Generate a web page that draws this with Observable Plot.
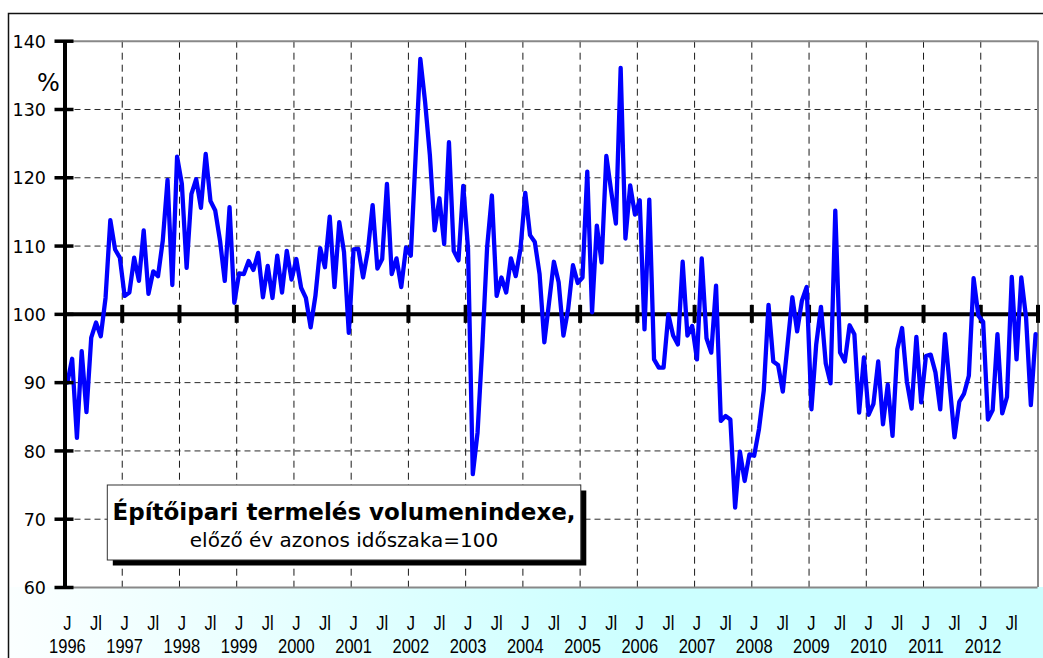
<!DOCTYPE html>
<html>
<head>
<meta charset="utf-8">
<script src="https://cdn.jsdelivr.net/npm/d3@7"></script>
<script src="https://cdn.jsdelivr.net/npm/@observablehq/plot@0.6"></script>
<style>
  html, body { margin: 0; padding: 0; background: #ffffff; }
  #chart { width: 1043px; height: 658px; overflow: hidden; }
</style>
</head>
<body>
<div id="chart"></div>
<script>
// ---- data ----
const years = [1996,1997,1998,1999,2000,2001,2002,2003,2004,2005,2006,2007,2008,2009,2010,2011,2012];
const monthLabels = ["J", "Jl"];
const yTicks = [60, 70, 80, 90, 100, 110, 120, 130, 140];
const yGrid = [70, 80, 90, 110, 120, 130];
const titleBold = "Építőipari termelés volumenindexe,";
const titleSub = "előző év azonos időszaka=100";
const unitLabel = "%";
// monthly volume index, Jan 1996 – Dec 2012 (one row per year)
const volumeIndex = [
  90.0, 93.5, 81.9, 94.6, 85.7, 96.6, 98.8, 96.8, 102.4, 113.8, 109.5, 108.3,
  102.7, 103.2, 108.3, 104.9, 112.3, 103.0, 106.3, 105.6, 110.8, 119.7, 104.3, 123.1,
  119.1, 106.8, 117.6, 119.8, 115.6, 123.5, 116.6, 115.2, 110.8, 104.9, 115.7, 101.7,
  106.0, 105.9, 107.8, 106.5, 109.0, 102.5, 107.1, 102.4, 108.6, 103.2, 109.3, 105.1,
  108.1, 103.9, 102.4, 98.1, 102.7, 109.7, 106.9, 114.3, 104.0, 113.5, 109.1, 97.3,
  109.5, 109.6, 105.4, 109.3, 116.0, 106.7, 108.1, 119.1, 105.9, 108.2, 104.0, 109.8,
  108.6, 123.0, 137.4, 131.1, 123.3, 112.3, 117.0, 110.3, 125.2, 109.3, 107.9, 118.8,
  109.6, 76.6, 82.7, 95.4, 109.8, 117.4, 102.7, 105.4, 103.2, 108.2, 105.6, 109.6,
  117.8, 111.6, 110.6, 105.9, 95.9, 101.8, 107.7, 104.7, 96.9, 100.8, 107.2, 104.6,
  105.4, 120.9, 100.3, 113.0, 107.6, 123.2, 118.1, 113.3, 136.1, 111.1, 118.9, 114.6,
  116.7, 97.8, 116.8, 93.4, 92.2, 92.2, 100.0, 96.9, 95.6, 107.7, 96.9, 98.3,
  93.4, 108.2, 96.5, 94.4, 104.2, 84.4, 85.1, 84.6, 71.7, 79.9, 75.6, 79.5,
  79.3, 83.2, 88.8, 101.4, 93.1, 92.6, 88.7, 95.6, 102.5, 97.5, 102.0, 104.0,
  86.1, 95.6, 101.1, 92.8, 89.9, 115.2, 94.4, 93.1, 98.4, 97.1, 85.6, 93.7,
  85.3, 86.9, 93.1, 83.9, 89.7, 82.2, 94.9, 98.0, 90.2, 86.2, 96.7, 87.1,
  93.9, 94.1, 91.5, 86.1, 97.1, 89.5, 82.0, 87.2, 88.4, 91.0, 105.3, 99.8,
  98.9, 84.6, 86.0, 97.1, 85.5, 87.9, 105.5, 93.4, 105.4, 99.5, 86.7, 97.1
];

// ---- derived tables ----
const series = volumeIndex.map((v, i) => ({i, v}));
const nMonths = years.length * 12;
const boundaries = d3.range(years.length + 1).map(k => k * 12 - 0.5);
const monthTicks = years.flatMap((y, k) => monthLabels.map((lab, j) => ({i: k * 12 + j * 6, label: lab})));
const yearTicks = years.map((y, k) => ({i: k * 12, label: String(y)}));

// layout
const W = 1043, H = 658;
const mL = 64.5, mR = 5.5, mT = 40.7, mB = 71;
const pxPerMonth = (W - mL - mR) / nMonths;
const pxPerUnit = (H - mT - mB) / 80;
const mx = px => px / pxPerMonth;   // pixel length -> month units
const my = px => px / pxPerUnit;    // pixel length -> index units

const plot = Plot.plot({
  width: W, height: H,
  marginLeft: mL, marginRight: mR, marginTop: mT, marginBottom: mB,
  x: {type: "linear", domain: [-0.5, nMonths - 0.5], axis: null},
  y: {type: "linear", domain: [60, 140], axis: null},
  style: {background: "transparent", fontFamily: "DejaVu Sans", overflow: "visible"},
  marks: [
    // dashed gridlines
    Plot.ruleY(yGrid, {stroke: "#2a2a2a", strokeWidth: 1, strokeDasharray: "6,4"}),
    Plot.ruleX(boundaries.slice(1, -1), {stroke: "#1a1a1a", strokeWidth: 1, strokeDasharray: "7,5"}),
    // plot area border (gray)
    Plot.ruleY([140, 60], {stroke: "#888888", strokeWidth: 2}),
    Plot.ruleX([nMonths - 0.5], {stroke: "#888888", strokeWidth: 2}),
    // 100 baseline with year ticks
    Plot.ruleY([100], {stroke: "#000000", strokeWidth: 4}),
    Plot.ruleX(boundaries, {y1: 100 - my(9), y2: 100 + my(9), stroke: "#000000", strokeWidth: 4}),
    // data line
    Plot.line(series, {x: "i", y: "v", stroke: "#0000ff", strokeWidth: 4.3, strokeLinejoin: "round"}),
    // y axis line and ticks
    Plot.ruleX([-0.5], {y1: 60, y2: 140, stroke: "#000000", strokeWidth: 4}),
    Plot.ruleY(yTicks, {x1: -0.5 - mx(10), x2: -0.5 + mx(9), stroke: "#000000", strokeWidth: 3.5}),
    Plot.text(yTicks, {x: -0.5, y: d => d, text: d => String(d), textAnchor: "end", dx: -19, dy: 1,
      fontSize: 17.5, fontFamily: "DejaVu Sans", fill: "#000"}),
    Plot.text([unitLabel], {frameAnchor: "top-left", dx: -28, dy: 33, fontSize: 24, fontFamily: "DejaVu Sans", fill: "#000"}),
    // x labels
    Plot.text(monthTicks, {x: "i", y: 60, text: "label", dy: 36, fontSize: 16.5, fontFamily: "Liberation Sans", fill: "#000"}),
    Plot.text(yearTicks, {x: "i", y: 60, text: "label", dy: 59, fontSize: 16.5, fontFamily: "Liberation Sans", fill: "#000"})
  ]
});

document.getElementById("chart").appendChild(plot);

const svg = d3.select(plot);

// reference x-axis labels are a tall, narrow face: stretch vertically about each anchor
svg.selectAll('g[font-family="Liberation Sans"] text').each(function() {
  const t = this.getAttribute("transform");
  if (t) this.setAttribute("transform", t + " scale(1,1.28)");
});

// background band + outer border + annotation box
const defs = svg.insert("defs", ":first-child");
const grad = defs.append("linearGradient").attr("id", "bandGrad")
  .attr("gradientUnits", "userSpaceOnUse").attr("x1", 8).attr("y1", 0).attr("x2", 640).attr("y2", 0);
grad.append("stop").attr("offset", 0).attr("stop-color", "#fbffff");
grad.append("stop").attr("offset", 1).attr("stop-color", "#ccffff");
svg.insert("rect", "defs + *")
  .attr("x", 8).attr("y", H - mB).attr("width", W - 8).attr("height", mB)
  .attr("fill", "url(#bandGrad)");

svg.append("path")
  .attr("d", `M8.5,${H} L8.5,13.5 L${W},13.5`)
  .attr("fill", "none").attr("stroke", "#111").attr("stroke-width", 1.5);

const box = svg.append("g");
const bx = 107.3, by = 485, bw = 473.5, bh = 75;
box.append("rect").attr("x", bx + 5.5).attr("y", by + 5.5).attr("width", bw).attr("height", bh).attr("fill", "#000");
box.append("rect").attr("x", bx).attr("y", by).attr("width", bw).attr("height", bh)
  .attr("fill", "#fff").attr("stroke", "#333").attr("stroke-width", 1);
box.append("text").attr("x", bx + bw / 2).attr("y", 520).attr("text-anchor", "middle")
  .attr("font-family", "DejaVu Sans").attr("font-weight", "bold").attr("font-size", 23).attr("fill", "#000")
  .text(titleBold);
box.append("text").attr("x", bx + bw / 2).attr("y", 547).attr("text-anchor", "middle")
  .attr("font-family", "DejaVu Sans").attr("font-size", 20).attr("fill", "#000")
  .text(titleSub);
</script>
</body>
</html>
